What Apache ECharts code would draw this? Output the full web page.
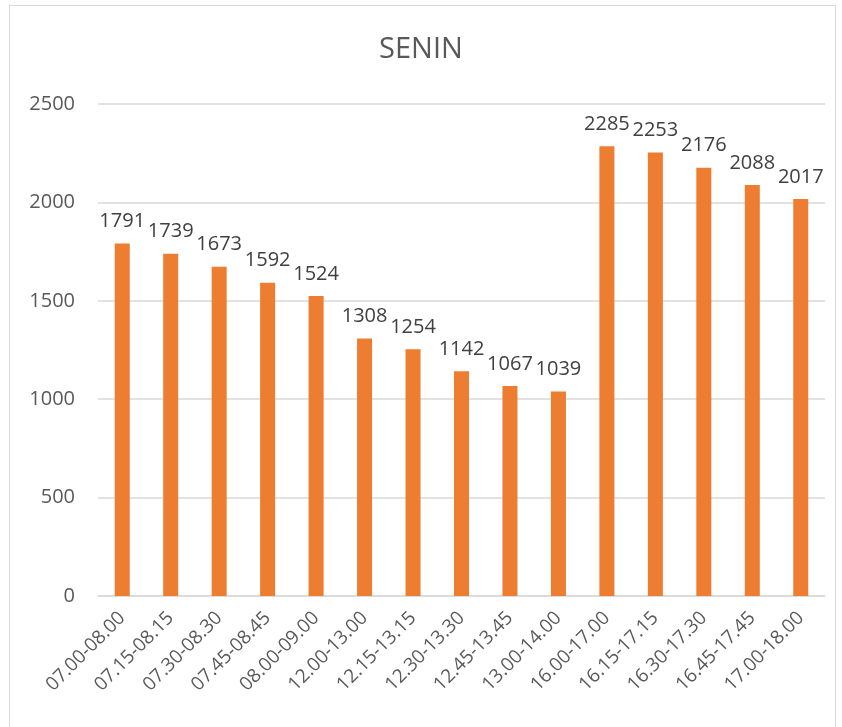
<!DOCTYPE html>
<html>
<head>
<meta charset="utf-8">
<script src="https://cdn.jsdelivr.net/npm/echarts@6/dist/echarts.min.js"></script>
<style>
	html, body { margin: 0; padding: 0; background: #fff; }
	#frame { position: absolute; left: 9px; top: 5px; width: 827px; height: 730px; border: 1px solid #d9d9d9; box-sizing: border-box; }
	#chart { position: absolute; left: 0; top: 0; width: 842px; height: 727px; }
</style>
</head>
<body>
<div id="frame"></div>
<div id="chart"></div>
<script>
// jam pengamatan
let categories = ['07.00-08.00', '07.15-08.15', '07.30-08.30', '07.45-08.45', '08.00-09.00',
	'12.00-13.00', '12.15-13.15', '12.30-13.30', '12.45-13.45', '13.00-14.00',
	'16.00-17.00', '16.15-17.15', '16.30-17.30', '16.45-17.45', '17.00-18.00']
let values = [1791, 1739, 1673, 1592, 1524, 1308, 1254, 1142, 1067, 1039, 2285, 2253, 2176, 2088, 2017]

let font = 'Open Sans, sans-serif'
let myChart = echarts.init(document.getElementById('chart'))
let option = {
	animation: false,
	title: {
		text: 'SENIN',
		left: 'center',
		top: 30,
		textStyle: { fontFamily: font, fontSize: 29, fontWeight: 'normal', color: '#595959' }
	},
	grid: { left: 98, right: 17, top: 104, bottom: 131 },
	xAxis: {
		type: 'category',
		data: categories,
		axisLine: { lineStyle: { color: '#d9d9d9', width: 1.5 } },
		axisTick: { show: false },
		axisLabel: { rotate: 45, interval: 0, fontFamily: font, fontSize: 19, color: '#595959', margin: 19 }
	},
	yAxis: {
		type: 'value',
		min: 0,
		max: 2500,
		interval: 500,
		axisLine: { show: false },
		axisTick: { show: false },
		splitLine: { lineStyle: { color: '#d9d9d9', width: 1.5 } },
		axisLabel: {
			fontFamily: font, fontSize: 20, color: '#595959', margin: 23,
			formatter: function (v) { return String(v) }
		}
	},
	series: [
		{
			type: 'bar',
			data: values,
			barWidth: '31%',
			itemStyle: { color: '#ED7D31' },
			label: {
				show: true,
				position: 'top',
				distance: 12,
				fontFamily: font,
				fontSize: 20,
				color: '#404040'
			}
		}
	]
}
myChart.setOption(option)
</script>
</body>
</html>
